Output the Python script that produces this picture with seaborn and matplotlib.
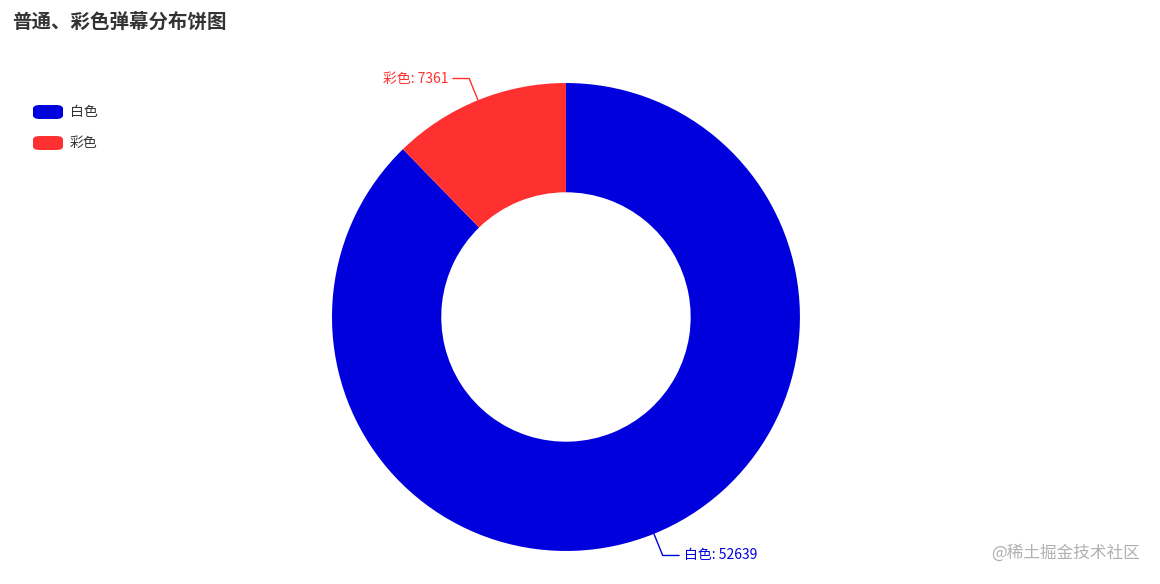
import numpy as np
import matplotlib
matplotlib.use("Agg")
import matplotlib.pyplot as plt
import seaborn as sns
from matplotlib.patches import FancyBboxPatch

sns.set_style("white")
plt.rcParams['font.family'] = ['Noto Sans CJK SC', 'DejaVu Sans']

labels = ['白色', '彩色']
values = [52639, 7361]
colors = ['#0000dd', '#ff3030']

fig = plt.figure(figsize=(11.6, 5.84), dpi=100)
ax = fig.add_axes([0.2862, 0.0565, 0.4034, 0.8014])
wedges, _ = ax.pie(values, colors=colors, startangle=90, counterclock=False,
                   radius=1.0, wedgeprops=dict(width=0.467, linewidth=0))
ax.set_xlim(-1, 1)
ax.set_ylim(-1, 1)
ax.set_aspect('equal')
ax.axis('off')

# leader lines + labels (text placed outside the ring)
for w, lab, val, col in zip(wedges, labels, values, colors):
    ang = np.deg2rad((w.theta1 + w.theta2) / 2)
    x0, y0 = np.cos(ang), np.sin(ang)
    x1, y1 = 1.1 * x0, 1.1 * y0
    side = 1 if x0 > 0 else -1
    x2 = x1 + side * 0.07
    ax.plot([x0, x1, x2], [y0, y1, y1], color=col, lw=1, clip_on=False)
    ax.text(x2 + side * 0.02, y1, f'{lab}: {val}', color=col, fontsize=10,
            ha='left' if side > 0 else 'right', va='center')

fig.text(12 / 1160, 1 - 22 / 584, '普通、彩色弹幕分布饼图', fontsize=14,
         fontweight='bold', color='#333333', va='center')

# legend
for i, (lab, col) in enumerate(zip(labels, colors)):
    yc = 1 - (112 + 31 * i) / 584
    fig.patches.append(FancyBboxPatch((33 / 1160, yc - 7 / 584), 30 / 1160, 14 / 584,
                                      boxstyle='round,pad=0,rounding_size=0.006',
                                      transform=fig.transFigure, color=col, lw=0))
    fig.text(70 / 1160, yc, lab, fontsize=10, color='#333333', va='center')

fig.text(1140 / 1160, 1 - 553 / 584, '@稀土掘金技术社区', fontsize=12,
         color='#b0b0b0', ha='right', va='center')

fig.savefig('out.png', dpi=100)
